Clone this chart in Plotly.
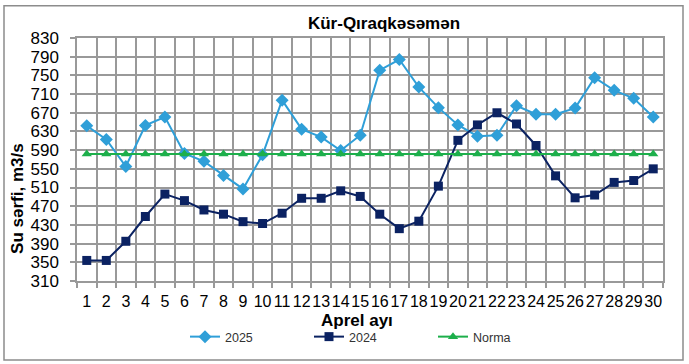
import plotly.graph_objects as go

days = list(range(1, 31))
day_labels = [str(d) for d in days]
y2025 = [642, 613, 555, 643, 661, 583, 566, 536, 507, 580,
         697, 635, 618, 589, 622, 761, 784, 725, 681, 644,
         620, 622, 685, 667, 667, 680, 745, 718, 701, 661]
y2024 = [354, 354, 395, 448, 496, 482, 462, 453, 437, 433,
         455, 487, 487, 503, 491, 453, 422, 438, 513, 611,
         644, 670, 646, 600, 535, 488, 494, 521, 525, 550]
norma = [582] * 30
yticks = list(range(310, 831, 40))

FONT = "Liberation Sans, Arial, sans-serif"
GRID = "#999999"

fig = go.Figure()
fig.add_trace(go.Scatter(x=days, y=y2025, name="2025", mode="lines+markers",
                         line=dict(color="#2F9FD8", width=2),
                         marker=dict(symbol="diamond", size=10, color="#2F9FD8")))
fig.add_trace(go.Scatter(x=days, y=y2024, name="2024", mode="lines+markers",
                         line=dict(color="#0B2262", width=2),
                         marker=dict(symbol="square", size=9, color="#0B2262")))
fig.add_trace(go.Scatter(x=days, y=norma, name="Norma", mode="lines+markers",
                         line=dict(color="#1DAF4B", width=2),
                         marker=dict(symbol="triangle-up", size=9, color="#1DAF4B")))

fig.update_layout(
    width=689, height=364,
    margin=dict(l=77, r=26, t=38, b=83),
    paper_bgcolor="white", plot_bgcolor="white",
    font=dict(family=FONT, color="#000000"),
    title=dict(text="<b>Kür-Qıraqkəsəmən</b>", x=384/689, xref="container", xanchor="center",
               y=1-23/364, yref="container", yanchor="middle",
               font=dict(size=17, family=FONT, color="#000000")),
    showlegend=True,
    legend=dict(orientation="h", x=185/689, xref="container", xanchor="left",
                y=1-337/364, yref="container", yanchor="middle",
                font=dict(size=12.5, family=FONT, color="#333333"),
                entrywidth=79, entrywidthmode="pixels", itemwidth=30,
                bgcolor="rgba(0,0,0,0)"),
    xaxis=dict(range=[0.5, 30.5], tickmode="array", tickvals=days, ticktext=day_labels,
               tickangle=0, ticklabelstandoff=5,
               showgrid=False, ticks="", tickfont=dict(size=16, family=FONT, color="#000000"),
               showline=True, linecolor=GRID, linewidth=1.5, mirror=True, zeroline=False,
               minor=dict(tick0=0.5, dtick=1, showgrid=True, gridcolor=GRID, gridwidth=1.5,
                          ticks="outside", ticklen=5, tickcolor=GRID, tickwidth=1.5)),
    yaxis=dict(range=[310, 830], tickmode="array", tickvals=yticks,
               showgrid=True, gridcolor=GRID, gridwidth=1.5,
               ticks="outside", ticklen=5, tickcolor=GRID, tickwidth=1.5,
               ticklabelstandoff=8,
               tickfont=dict(size=17, family=FONT, color="#000000"),
               showline=True, linecolor=GRID, linewidth=1.5, mirror=True, zeroline=False),
)

# axis titles
fig.add_annotation(text="<b>Aprel ayı</b>", x=(356.5-77)/586, y=(281-320.5)/242.7,
                   xref="paper", yref="paper", xanchor="center", yanchor="middle",
                   showarrow=False, font=dict(size=17, family=FONT, color="#000000"))
fig.add_annotation(text="<b>Su sərfi, m3/s</b>", textangle=-90,
                   x=(18-77)/586, y=(281-199)/242.7, xref="paper", yref="paper",
                   xanchor="center", yanchor="middle",
                   showarrow=False, font=dict(size=17, family=FONT, color="#000000"))

# outer border
fig.add_shape(type="rect", xref="paper", yref="paper",
              x0=(4-77)/586, x1=(683-77)/586, y0=(281-360)/242.7, y1=(281-6)/242.7,
              line=dict(color="#8C8C8C", width=1.5), fillcolor="rgba(0,0,0,0)", layer="below")

fig.write_html("out.html", config={"displayModeBar": False},
               post_script="document.body.style.margin='0';")
